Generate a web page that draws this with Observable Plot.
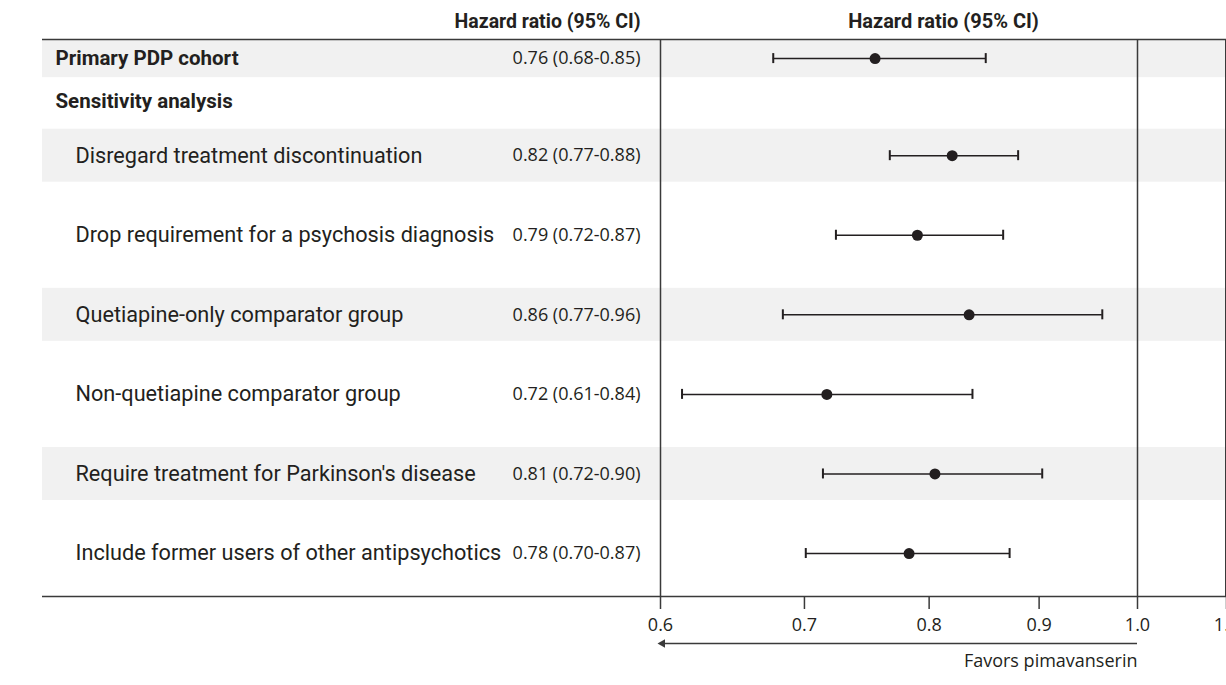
<!DOCTYPE html>
<html>
<head>
<meta charset="utf-8">
<script src="https://cdn.jsdelivr.net/npm/d3@7"></script>
<script src="https://cdn.jsdelivr.net/npm/@observablehq/plot@0.6"></script>
<style>
  html, body { margin: 0; padding: 0; background: #fff; }
  #chart svg { display: block; }
</style>
</head>
<body>
<div id="chart"></div>
<script>
// ---- data ----
const labels = [
  "Primary PDP cohort",
  "Sensitivity analysis",
  "Disregard treatment discontinuation",
  "Drop requirement for a psychosis diagnosis",
  "Quetiapine-only comparator group",
  "Non-quetiapine comparator group",
  "Require treatment for Parkinson's disease",
  "Include former users of other antipsychotics"
];
const kinds = ["group", "group", "item", "item", "item", "item", "item", "item"];
// printed estimates
const hrLabels = [
  "0.76 (0.68-0.85)", "", "0.82 (0.77-0.88)", "0.79 (0.72-0.87)",
  "0.86 (0.77-0.96)", "0.72 (0.61-0.84)", "0.81 (0.72-0.90)", "0.78 (0.70-0.87)"
];
// plotted positions
const hr    = [0.755, null, 0.820, 0.790, 0.835, 0.717, 0.805, 0.783];
const lower = [0.677, null, 0.767, 0.724, 0.684, 0.614, 0.714, 0.701];
const upper = [0.850, null, 0.880, 0.866, 0.963, 0.838, 0.903, 0.872];
const xTicks = [0.6, 0.7, 0.8, 0.9, 1.0, 1.1];
const headerText = "Hazard ratio (95% CI)";
const favorsText = "Favors pimavanserin";
const refValue = 1.0;

// ---- layout (pixels -> scale units) ----
const W = 1226, H = 685;
const mTop = 39, mBottom = 89, mLeft = 42, mRight = 0;
const plotLeft = 660;                  // pixel where x = 0.6
const xMin = 0.6, xMax = 1.1;
// extend the log domain so that xMin lands at plotLeft while the frame starts at mLeft
const xLo = xMin * Math.pow(xMax / xMin, -(plotLeft - mLeft) / (W - mRight - plotLeft));
const yMax = 7;
const unitPx = (H - mBottom - mTop) / yMax;
const groupH = 0.48;

let cursor = 0;
const rows = labels.map((label, i) => {
  const h = kinds[i] === "group" ? groupH : 1;
  const c = cursor + h / 2;
  const row = {
    label, kind: kinds[i], hr: hr[i], lo: lower[i], hi: upper[i],
    y: c, top: cursor, bottom: cursor + h, index: i, text: hrLabels[i]
  };
  cursor += h;
  return row;
});
const bandHalf = 26.5 / unitPx;
const bands = rows.filter(r => r.index % 2 === 0).map(r => ({
  y1: r.kind === "group" ? r.top : r.y - bandHalf,
  y2: r.kind === "group" ? r.bottom : r.y + bandHalf
}));
const items = rows.filter(r => r.hr != null);
const capHalf = 5 / unitPx;
const arrowY = yMax + 47 / unitPx;
const favorsY = yMax + 65 / unitPx;

const ink = "#231f20";
const lineCol = "#3a3a3a";
const labelFont = "Roboto, 'Liberation Sans', sans-serif";
const boldFont = "Roboto, 'Liberation Sans', sans-serif";
const valueFont = "'Open Sans', 'Noto Sans', sans-serif";

const chart = Plot.plot({
  width: W,
  height: H,
  marginTop: mTop,
  marginBottom: mBottom,
  marginLeft: mLeft,
  marginRight: mRight,
  style: { fontFamily: labelFont, color: ink, background: "#fff", overflow: "visible" },
  x: { type: "log", domain: [xLo, xMax], axis: null },
  y: { domain: [0, yMax], reverse: true, axis: null },
  marks: [
    Plot.rect(bands, { y1: "y1", y2: "y2", fill: "#f1f1f1" }),
    Plot.ruleY([0, yMax], { stroke: lineCol, strokeWidth: 1.5 }),
    Plot.ruleX([xMin, refValue], { y1: 0, y2: yMax, stroke: lineCol, strokeWidth: 1.5 }),
    Plot.ruleX([xMax], { y1: 0, y2: yMax, stroke: lineCol, strokeWidth: 1.5, dx: -0.75 }),
    Plot.axisX({
      ticks: xTicks, tickFormat: ".1f", tickSize: 13, tickPadding: 9,
      fontSize: 18, fontFamily: valueFont, stroke: lineCol, strokeWidth: 1.5, label: null
    }),
    // CI lines
    Plot.ruleY(items, { y: "y", x1: "lo", x2: "hi", stroke: ink, strokeWidth: 1.5 }),
    Plot.ruleX(items, { x: "lo", y1: d => d.y - capHalf, y2: d => d.y + capHalf, stroke: ink, strokeWidth: 2 }),
    Plot.ruleX(items, { x: "hi", y1: d => d.y - capHalf, y2: d => d.y + capHalf, stroke: ink, strokeWidth: 2 }),
    Plot.dot(items, { x: "hr", y: "y", r: 5.5, fill: ink, stroke: null }),
    // left labels
    Plot.text(rows.filter(r => r.kind === "group" && r.hr != null), {
      y: "y", text: "label", frameAnchor: "left", dx: 13,
      textAnchor: "start", fontSize: 20.5, fontWeight: "bold", fontFamily: boldFont, fill: ink
    }),
    Plot.text(rows.filter(r => r.kind === "group" && r.hr == null), {
      y: "y", text: "label", frameAnchor: "left", dx: 13, dy: 5,
      textAnchor: "start", fontSize: 20.5, fontWeight: "bold", fontFamily: boldFont, fill: ink
    }),
    Plot.text(rows.filter(r => r.kind === "item"), {
      y: "y", text: "label", frameAnchor: "left", dx: 33,
      textAnchor: "start", fontSize: 21.7, fontFamily: labelFont, fill: ink
    }),
    // HR values
    Plot.text(items, {
      y: "y", x: xMin, text: "text", dx: -20, textAnchor: "end",
      fontSize: 18, fontFamily: valueFont, fill: ink
    }),
    // headers
    Plot.text([headerText], {
      x: xMin, frameAnchor: "top", text: d => d, dx: -20, dy: -18, textAnchor: "end", lineAnchor: "middle",
      fontSize: 19.5, fontWeight: "bold", fontFamily: boldFont, fill: ink
    }),
    Plot.text([headerText], {
      x: Math.sqrt(xMin * xMax), frameAnchor: "top", text: d => d, dy: -18, textAnchor: "middle", lineAnchor: "middle",
      fontSize: 20, fontWeight: "bold", fontFamily: boldFont, fill: ink
    }),
    // favors arrow
    Plot.ruleY([arrowY], { x1: refValue, x2: xMin, stroke: lineCol, strokeWidth: 1.5 }),
    Plot.dot([arrowY], { x: xMin, y: d => d, symbol: "triangle", rotate: -90, r: 3.2, dx: 2, fill: lineCol, stroke: null }),
    Plot.text([favorsText], {
      x: refValue, y: favorsY, text: d => d, textAnchor: "end",
      fontSize: 18, fontFamily: valueFont, fill: ink
    })
  ]
});
document.getElementById("chart").appendChild(chart);
</script>
</body>
</html>
